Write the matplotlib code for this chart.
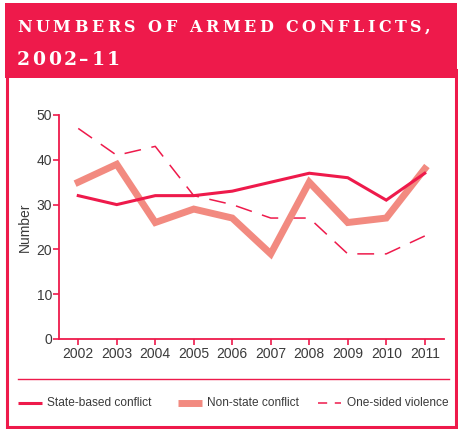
import matplotlib
matplotlib.use("Agg")
import matplotlib.pyplot as plt
from matplotlib.patches import Rectangle
from matplotlib.lines import Line2D

years = [2002, 2003, 2004, 2005, 2006, 2007, 2008, 2009, 2010, 2011]
state_based = [32, 30, 32, 32, 33, 35, 37, 36, 31, 37]
non_state = [35, 39, 26, 29, 27, 19, 35, 26, 27, 38]
one_sided = [47, 41, 43, 32, 30, 27, 27, 19, 19, 23]
yticks = [0, 10, 20, 30, 40, 50]
title1 = "NUMBERS OF ARMED CONFLICTS,"
title2 = "2002–11"

RED = "#EE1A4B"
SALMON = "#F28A80"
TXT = "#3a3a3a"

plt.rcParams['font.family'] = ['Liberation Sans', 'DejaVu Sans']

W, H = 458, 429
fig = plt.figure(figsize=(W/100, H/100), dpi=100)

# frame border
fig.patches.append(Rectangle((7/W, 1 - 427/H), (456-7)/W, (427-70)/H, transform=fig.transFigure,
                             fill=False, edgecolor=RED, linewidth=2.2, zorder=0))
# header
fig.patches.append(Rectangle((5/W, 1 - 78/H), (457-5)/W, (78-3)/H, transform=fig.transFigure,
                             facecolor=RED, edgecolor='none', zorder=1))

renderer = fig.canvas.get_renderer()


def tracked(s, x0, ybase, size, track):
    x = x0
    for ch in s:
        t = fig.text(x/W, 1 - ybase/H, ch, color='white', fontsize=size, fontweight='bold',
                     family='DejaVu Serif', va='baseline', ha='left', zorder=5)
        if ch == ' ':
            w = size * 0.32 * 100/72
        else:
            w = t.get_window_extent(renderer).width
        x += w + track


tracked(title1, 17, 32, 11.5, 3.6)
tracked(title2, 17, 65, 13.5, 2.6)

ax = fig.add_axes([59/W, 1 - 339/H, (444-59)/W, 224/H])
ax.plot(years, state_based, color=RED, linewidth=2.2, solid_joinstyle='miter', zorder=3)
ax.plot(years, non_state, color=SALMON, linewidth=5, solid_joinstyle='miter', zorder=2)
ax.plot(years, one_sided, color=RED, linewidth=1.1, dashes=(11, 7), zorder=1)

ax.set_xlim(2001.5, 2011.5)
ax.set_ylim(0, 50)
ax.set_xticks(years)
ax.set_xticklabels([str(y) for y in years])
ax.set_yticks(yticks)
for s in ['top', 'right']:
    ax.spines[s].set_visible(False)
for s in ['left', 'bottom']:
    ax.spines[s].set_color(RED)
    ax.spines[s].set_linewidth(1.3)
ax.tick_params(axis='both', colors=RED, labelcolor=TXT, labelsize=10, length=4, width=1.2)
ax.tick_params(axis='y', pad=1)
ax.tick_params(axis='x', pad=2)
ax.set_ylabel("Number", color=TXT, fontsize=10, labelpad=3)

# separator line
fig.add_artist(Line2D([18/W, 449/W], [1 - 379/H, 1 - 379/H], color=RED, linewidth=1))

# legend
ly = 1 - 403/H
fs = 8.6
fig.add_artist(Line2D([18/W, 42/W], [ly, ly], color=RED, linewidth=2.2, solid_capstyle='butt'))
fig.text(47/W, ly, "State-based conflict", color=TXT, fontsize=fs, va='center')
fig.add_artist(Line2D([178/W, 202/W], [ly, ly], color=SALMON, linewidth=5, solid_capstyle='butt'))
fig.text(207/W, ly, "Non-state conflict", color=TXT, fontsize=fs, va='center')
fig.add_artist(Line2D([318/W, 341/W], [ly, ly], color=RED, linewidth=1.1, dashes=(6, 5),
                      dash_capstyle='butt'))
fig.text(347/W, ly, "One-sided violence", color=TXT, fontsize=fs, va='center')

fig.savefig("out.png", dpi=100)
